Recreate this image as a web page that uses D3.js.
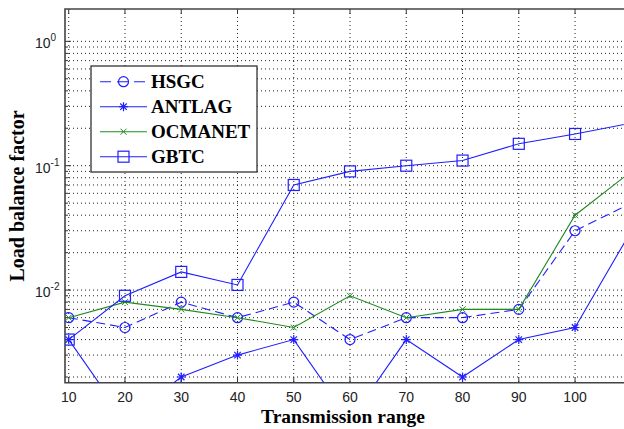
<!DOCTYPE html>
<html>
<head>
<meta charset="utf-8">
<script src="https://cdn.jsdelivr.net/npm/d3@7"></script>
<style>
  body { margin: 0; background: #fff; }
  svg { display: block; }
</style>
</head>
<body>
<svg width="624" height="429"></svg>
<script>
// Data
const ranges = [10, 20, 30, 40, 50, 60, 70, 80, 90, 100, 110];
const hsgc = [0.006, 0.005, 0.008, 0.006, 0.008, 0.004, 0.006, 0.006, 0.007, 0.03, 0.05];
const antlag = [0.004, 0.0009, 0.002, 0.003, 0.004, 0.0009, 0.004, 0.002, 0.004, 0.005, 0.03];
const ocmanet = [0.006, 0.008, 0.007, 0.006, 0.005, 0.009, 0.006, 0.007, 0.007, 0.04, 0.09];
const gbtc = [0.004, 0.009, 0.014, 0.011, 0.07, 0.09, 0.1, 0.11, 0.15, 0.18, 0.22];

const xTicks = [10, 20, 30, 40, 50, 60, 70, 80, 90, 100];
const yTicks = [1, 0.1, 0.01];
const yTickExp = ["0", "-1", "-2"];
const seriesNames = ["HSGC", "ANTLAG", "OCMANET", "GBTC"];

const BLUE = "#1f1fff";
const GREEN = "#1e8a1e";

const pLeft = 65, pTop = 9, pRight = 624, pBottom = 382.7;

function getScales() {
  let x = d3.scaleLinear().domain([9.34, 108.7]).range([pLeft, pRight]);
  let y = d3.scaleLog().domain([0.0018, 1.82]).range([pBottom, pTop]);
  return [x, y];
}

// marker paths
function starPath(r) {
  let d = r * 0.72;
  return `M${-r},0L${r},0M0,${-r}L0,${r}M${-d},${-d}L${d},${d}M${-d},${d}L${d},${-d}`;
}
function xPath(r) {
  return `M${-r},${-r}L${r},${r}M${-r},${r}L${r},${-r}`;
}

function drawMarker(g, kind, color) {
  if (kind === "circle") {
    g.append("circle").attr("r", 5).attr("fill", "none").attr("stroke", color).attr("stroke-width", 1.2);
  } else if (kind === "square") {
    g.append("rect").attr("x", -5.5).attr("y", -5.5).attr("width", 11).attr("height", 11)
      .attr("fill", "none").attr("stroke", color).attr("stroke-width", 1.2);
  } else if (kind === "star") {
    g.append("path").attr("d", starPath(4.5)).attr("stroke", color).attr("stroke-width", 1.2).attr("fill", "none");
  } else if (kind === "x") {
    g.append("path").attr("d", xPath(3)).attr("stroke", color).attr("stroke-width", 1).attr("fill", "none");
  }
}

function createPlot() {
  let svg = d3.select("svg");
  let [x, y] = getScales();

  svg.append("defs").append("clipPath").attr("id", "plotClip")
    .append("rect").attr("x", pLeft).attr("y", pTop).attr("width", pRight - pLeft).attr("height", pBottom - pTop);

  // grid
  let grid = svg.append("g").attr("stroke", "#222").attr("stroke-width", 1).attr("stroke-dasharray", "1,3");
  xTicks.forEach((t) => {
    grid.append("line").attr("x1", x(t)).attr("x2", x(t)).attr("y1", pTop).attr("y2", pBottom);
  });
  let minor = [];
  [0.001, 0.01, 0.1, 1].forEach((dec) => {
    for (let k = 1; k <= 9; k++) {
      let v = dec * k;
      if (v >= 0.0018 && v <= 1.82) minor.push(v);
    }
  });
  minor.forEach((v) => {
    grid.append("line").attr("x1", pLeft).attr("x2", pRight).attr("y1", y(v)).attr("y2", y(v));
  });

  // ticks
  let ticks = svg.append("g").attr("stroke", "#333").attr("stroke-width", 1);
  xTicks.forEach((t) => {
    ticks.append("line").attr("x1", x(t)).attr("x2", x(t)).attr("y1", pBottom).attr("y2", pBottom - 5);
    ticks.append("line").attr("x1", x(t)).attr("x2", x(t)).attr("y1", pTop).attr("y2", pTop + 5);
  });
  minor.forEach((v) => {
    let major = Math.abs(Math.log10(v) - Math.round(Math.log10(v))) < 1e-9;
    ticks.append("line").attr("x1", pLeft).attr("x2", pLeft + (major ? 6 : 3)).attr("y1", y(v)).attr("y2", y(v));
  });

  // axes box
  svg.append("path")
    .attr("d", `M${pRight + 2},${pTop}H${pLeft}V${pBottom}H${pRight + 2}`)
    .attr("fill", "none").attr("stroke", "#444").attr("stroke-width", 1.6);

  // x tick labels
  svg.append("g").selectAll("text").data(xTicks).enter().append("text")
    .attr("x", (d) => x(d)).attr("y", 401.5)
    .attr("text-anchor", "middle")
    .attr("font-family", "Liberation Sans, Arial, sans-serif").attr("font-size", 14).attr("fill", "#222")
    .text((d) => d);

  // y tick labels
  yTicks.forEach((t, i) => {
    let txt = svg.append("text").attr("x", 35).attr("y", y(t) + 7)
      .attr("font-family", "Liberation Sans, Arial, sans-serif").attr("font-size", 14).attr("fill", "#222");
    txt.append("tspan").text("10");
    txt.append("tspan").attr("dy", -7).attr("font-size", 10).text(yTickExp[i]);
  });

  // axis titles
  svg.append("text").attr("x", 343).attr("y", 423).attr("text-anchor", "middle")
    .attr("font-family", "Liberation Serif, Times New Roman, serif").attr("font-weight", "bold").attr("font-size", 19.5)
    .text("Transmission range");
  svg.append("text").attr("transform", "translate(24,196) rotate(-90)").attr("text-anchor", "middle")
    .attr("font-family", "Liberation Serif, Times New Roman, serif").attr("font-weight", "bold").attr("font-size", 20)
    .text("Load balance factor");
}

function drawSeries() {
  let svg = d3.select("svg");
  let [x, y] = getScales();
  let plot = svg.append("g").attr("clip-path", "url(#plotClip)");

  let series = [
    { name: seriesNames[0], values: hsgc, color: BLUE, marker: "circle", dash: "9,5" },
    { name: seriesNames[1], values: antlag, color: BLUE, marker: "star", dash: null },
    { name: seriesNames[2], values: ocmanet, color: GREEN, marker: "x", dash: null },
    { name: seriesNames[3], values: gbtc, color: BLUE, marker: "square", dash: null },
  ];

  let line = d3.line()
    .x((d) => x(d[0]))
    .y((d) => y(d[1]));

  series.forEach((s) => {
    let pts = ranges.map((r, i) => [r, s.values[i]]);
    plot.append("path").datum(pts)
      .attr("d", line)
      .attr("fill", "none").attr("stroke", s.color).attr("stroke-width", 1.1)
      .attr("stroke-dasharray", s.dash);
    pts.forEach((p) => {
      let g = plot.append("g").attr("transform", `translate(${x(p[0])},${y(p[1])})`);
      drawMarker(g, s.marker, s.color);
    });
  });

  // legend
  let lg = svg.append("g");
  lg.append("rect").attr("x", 91).attr("y", 66).attr("width", 166).attr("height", 106)
    .attr("fill", "#fff").attr("stroke", "#333").attr("stroke-width", 1.3);
  series.forEach((s, i) => {
    let yy = 81.7 + i * 25;
    lg.append("line").attr("x1", 100).attr("x2", 147).attr("y1", yy).attr("y2", yy)
      .attr("stroke", s.color).attr("stroke-width", 1.1)
      .attr("stroke-dasharray", s.dash ? "11,6" : null);
    let g = lg.append("g").attr("transform", `translate(123.5,${yy})`);
    drawMarker(g, s.marker, s.color);
    lg.append("text").attr("x", 151).attr("y", yy + 6.5)
      .attr("font-family", "Liberation Serif, Times New Roman, serif").attr("font-weight", "bold").attr("font-size", 19)
      .text(s.name);
  });
}

createPlot();
drawSeries();
</script>
</body>
</html>
